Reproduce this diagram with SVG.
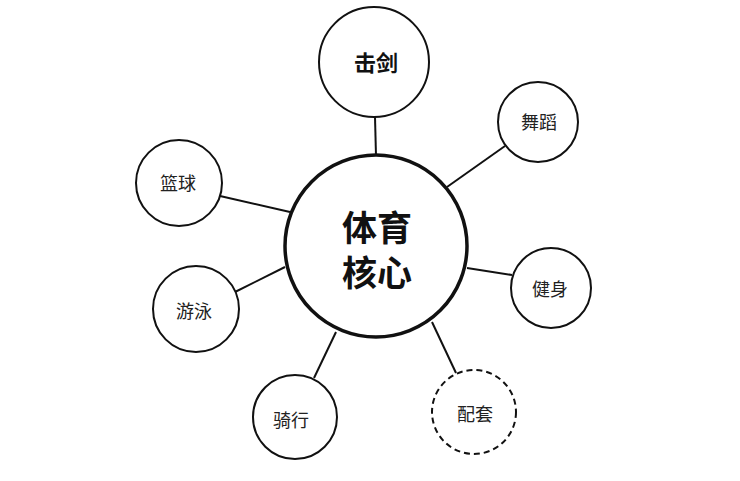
<svg xmlns="http://www.w3.org/2000/svg" width="740" height="481" viewBox="0 0 740 481">
<style>
.bg{fill:#fff}
.n{fill:#fff;stroke:#111;stroke-width:2}
.d{stroke-dasharray:6 4}
.c{fill:#fff;stroke:#111;stroke-width:3.5}
.e{stroke:#111;stroke-width:2;fill:none}
text{font-family:"Noto Sans CJK SC","Noto Sans",sans-serif;fill:#222;text-anchor:middle;dominant-baseline:central}
.t{font-size:18px}
.b{font-size:22px;font-weight:bold;fill:#111}
.m{font-size:35px;font-weight:bold;fill:#111}
</style>
<rect class="bg" width="740" height="481"/>
<g id="connectors">
<line class="e" x1="375" y1="117" x2="376" y2="156"/>
<line class="e" x1="505" y1="146" x2="447" y2="187"/>
<line class="e" x1="220" y1="196" x2="290" y2="212"/>
<line class="e" x1="235" y1="292" x2="285" y2="267"/>
<line class="e" x1="314" y1="378" x2="336" y2="332"/>
<line class="e" x1="456" y1="373" x2="432" y2="322"/>
<line class="e" x1="512" y1="275" x2="467" y2="268"/>
</g>
<g id="center"><circle class="c" cx="376" cy="246" r="91"/><text class="m" x="377" y="225"><tspan x="377" y="225">体育</tspan><tspan x="377" y="270">核心</tspan></text></g>
<g id="n-jijian"><circle class="n" cx="374" cy="62" r="55"/><text class="b" x="376" y="61">击剑</text></g>
<g id="n-wudao"><circle class="n" cx="538" cy="122" r="40"/><text class="t" x="539" y="121">舞蹈</text></g>
<g id="n-lanqiu"><circle class="n" cx="179" cy="183" r="43"/><text class="t" x="178" y="182">篮球</text></g>
<g id="n-youyong"><circle class="n" cx="196" cy="309" r="43"/><text class="t" x="194" y="310">游泳</text></g>
<g id="n-qixing"><circle class="n" cx="295" cy="417" r="42"/><text class="t" x="291" y="419">骑行</text></g>
<g id="n-peitao"><circle class="n d" cx="474" cy="412" r="42"/><text class="t" x="475" y="413">配套</text></g>
<g id="n-jianshen"><circle class="n" cx="551" cy="288" r="40"/><text class="t" x="550" y="288">健身</text></g>
</svg>
